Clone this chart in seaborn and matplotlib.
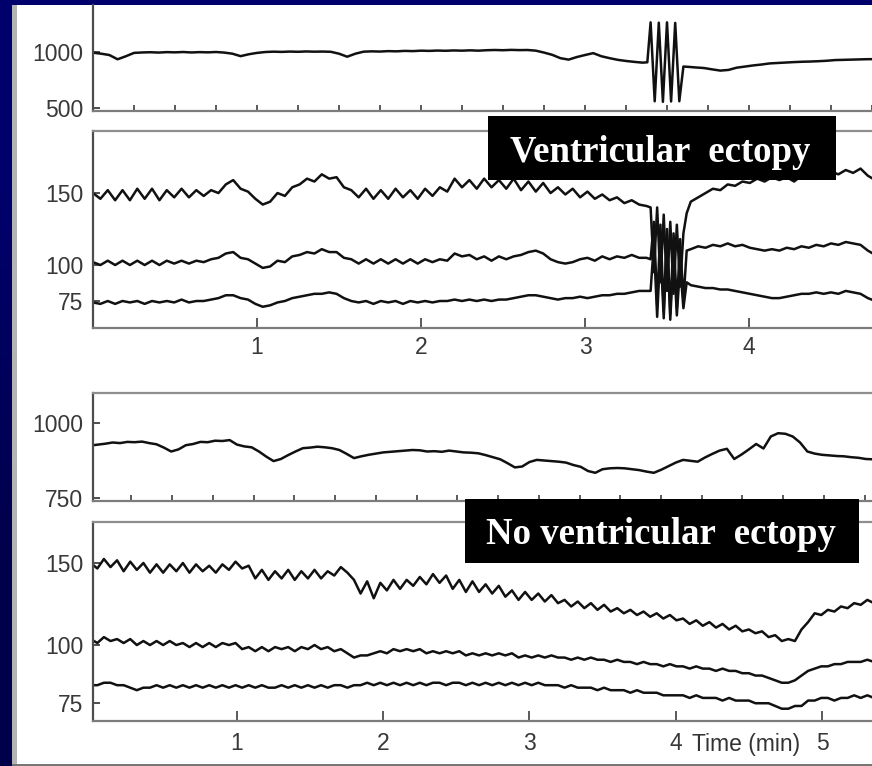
import numpy as np
import matplotlib
matplotlib.use("Agg")
import matplotlib.pyplot as plt
import seaborn as sns
from matplotlib.patches import Rectangle
from matplotlib.colors import LinearSegmentedColormap
from matplotlib.ticker import MultipleLocator, NullLocator

sns.set_theme(style="white")
plt.rcParams['font.family'] = ['Liberation Sans', 'DejaVu Sans']

# ---------------- DATA ----------------
# Panel 1: RR interval (ms), episode WITH ventricular ectopy; samples every 0.05 min
RR1_PRE = [994, 985, 973, 935, 962, 992, 996, 998, 995, 999,
           997, 1000, 996, 999, 997, 1000, 995, 985, 963, 980,
           992, 1000, 1003, 1001, 1004, 1002, 1005, 1003, 1004, 1002,
           985, 958, 985, 1003, 1006, 1004, 1008, 1006, 1010, 1008,
           1012, 1010, 1013, 1011, 1014, 1012, 1015, 1012, 1016, 1018,
           1016, 1019, 1017, 1018, 1012, 995, 975, 945, 932, 955,
           973, 990, 962, 945, 930, 920, 912, 905]
RR1_SPIKE_T = [3.38, 3.40, 3.425, 3.45, 3.475, 3.50, 3.525, 3.55, 3.575, 3.60]
RR1_SPIKE = [908, 1265, 560, 1262, 555, 1265, 558, 1260, 560, 870]
RR1_POST = [868, 862, 857, 845, 834, 840, 860, 870, 880, 888, 898, 902,
            906, 910, 913, 915, 918, 922, 928, 930, 932, 934, 936, 936]

# Panel 2: blood pressure (mmHg) systolic / mean / diastolic; samples every 0.045 min
S2_PRE = [150, 146, 152, 145, 152, 145, 153, 146, 153, 145,
          152, 147, 153, 147, 152, 148, 152, 150, 156, 159,
          153, 151, 146, 142, 144, 150, 148, 154, 156, 160,
          158, 163, 160, 161, 154, 152, 147, 153, 146, 152,
          146, 153, 147, 152, 146, 153, 148, 154, 151, 160,
          154, 159, 153, 160, 154, 159, 153, 160, 152, 158,
          151, 157, 150, 154, 149, 153, 147, 151, 146, 149,
          145, 147, 143, 145, 142, 141]
M2_PRE = [102, 100, 103, 100, 103, 100, 103, 100, 103, 100, 103, 101, 103, 101, 103, 102, 104, 105,
          108, 109, 105, 104, 101, 98, 99, 103, 102, 106, 107,
          109, 108, 111, 109, 109,
          105, 104, 101, 104, 101, 104, 101, 104, 101, 104, 101, 104, 102, 104, 103,
          108, 106, 107, 104, 106, 103, 106, 104, 106,
          107, 109, 110, 108, 104, 102, 101, 102,
          104, 105, 103, 106, 104, 106, 105, 107, 105, 105]
D2_PRE = [74, 73, 75, 73, 75, 74, 75, 73, 75, 74, 75, 74, 76, 74, 75, 75, 76, 77,
          79, 79, 77, 76, 73, 71, 72, 74,
          75, 77, 78, 79, 80, 80, 81, 80,
          77, 75, 74, 75, 73, 75, 74, 75, 73, 75, 74, 75, 74, 75,
          75, 76, 75, 76, 75, 76, 75, 76, 76,
          77, 78, 79, 79, 78, 77,
          76, 77, 77, 78, 77, 78, 79,
          79, 80, 80, 81, 82, 82]
BP2_SPIKE_T = [3.40, 3.42, 3.44, 3.46, 3.48, 3.50, 3.52, 3.54, 3.56, 3.58, 3.60, 3.62]
S2_SPIKE = [140, 95, 140, 88, 135, 82, 130, 80, 128, 85, 122, 136]
M2_SPIKE = [104, 130, 72, 128, 68, 125, 66, 122, 70, 118, 75, 110]
D2_SPIKE = [82, 115, 64, 112, 63, 118, 62, 110, 65, 100, 70, 88]
S2_POST = [144, 147, 150, 153, 152, 156, 155, 158, 157, 160, 158, 161, 159,
           161, 158, 162, 160, 163, 161, 165, 163, 166, 164, 167, 162, 159]
M2_POST = [111, 113, 112, 114, 113, 115, 113, 114, 112, 111, 110, 111, 110,
           112, 111, 113, 112, 114, 113, 115, 114, 116, 115, 114, 110, 107]
D2_POST = [86, 85, 84, 84, 83, 83, 82, 81, 80, 79, 78, 77, 77,
           78, 79, 80, 80, 81, 80, 81, 80, 82, 81, 80, 77, 75]

# Panel 3: RR interval (ms), episode WITHOUT ectopy; samples every 0.05 min
RR3 = [925, 928, 931, 935, 933, 937, 936, 938, 933, 929,
       918, 905, 912, 926, 930, 937, 936, 941, 940, 943,
       928, 922, 919, 905, 888, 873, 880, 893, 905, 916,
       918, 921, 919, 916, 910, 897, 883, 889, 894, 898,
       902, 904, 906, 908, 910, 909, 905, 906, 904, 908,
       905, 902, 901, 899, 893, 886, 879, 866, 852, 855,
       870, 877, 875, 873, 871, 868, 860, 854, 840, 834,
       846, 849, 850, 849, 846, 843, 838, 834, 844, 856,
       868, 877, 874, 871, 885, 897, 908, 914, 880, 895,
       912, 930, 915, 955, 966, 964, 955, 935, 905, 898,
       894, 892, 890, 889, 886, 884, 880, 879]

# Panel 4: blood pressure (mmHg) without ectopy; samples every 0.045 min
S4 = [150, 146, 153, 147, 152, 144, 151, 145, 150, 143,
      149, 143, 149, 144, 150, 143, 149, 144, 148, 143,
      149, 145, 151, 146, 148, 139, 145, 138, 144, 139,
      145, 138, 144, 139, 145, 139, 144, 141, 147, 143,
      138, 129, 137, 126, 136, 131, 138, 132, 138, 134,
      140, 135, 142, 136, 141, 132, 138, 130, 137, 130,
      135, 129, 134, 127, 131, 125, 130, 125, 129, 124,
      128, 123, 125, 121, 124, 120, 123, 119, 122, 118,
      120, 117, 119, 116, 118, 115, 117, 114, 116, 113,
      114, 111, 113, 110, 112, 109, 111, 108, 110, 107,
      108, 106, 107, 104, 105, 102, 103, 102, 108, 112,
      117, 116, 119, 118, 121, 120, 123, 122, 125, 123]
M4 = [103, 101, 104, 102, 103, 101, 103, 100, 102, 100, 102,
      100, 102, 100, 101, 99, 101, 99, 101, 99, 101, 100, 101,
      98, 99, 97, 99, 97, 99, 98, 99, 97, 99, 98, 100, 98,
      99, 97, 98, 96, 94, 95, 95, 96, 97, 96, 98, 97,
      98, 97, 98, 96, 97, 96, 97, 96, 97, 95, 96, 95, 96, 95, 96,
      95, 96, 94, 95, 94, 95, 94, 95, 94, 94, 93, 94, 93, 94, 93, 93,
      92, 93, 92, 92, 91, 92, 91, 91, 90, 91, 90, 90,
      89, 90, 89, 89, 88, 89, 88, 88, 87, 87, 86, 86,
      85, 84, 83, 83, 84,
      86, 88, 89, 90, 90, 91, 91, 92, 92, 92, 93, 92]
D4 = [82, 82, 83, 83, 82, 82, 81, 80, 81, 81, 82,
      81, 82, 81, 82, 81, 82, 81, 82, 81, 82, 81, 82,
      81, 82, 81, 82, 81, 81, 82, 81, 82, 81, 82, 81, 82,
      81, 82, 82, 81, 82, 82, 83, 82, 83, 82, 83, 82,
      83, 82, 83, 82, 83, 83, 82, 83, 83, 82, 83, 82, 83, 82, 83,
      82, 83, 82, 83, 82, 83, 82, 82, 82, 81, 82, 81, 81, 81, 80, 81,
      80, 80, 80, 79, 80, 79, 79, 79, 78, 78, 78, 78,
      77, 78, 77, 77, 77, 76, 77, 76, 76, 76, 75, 75,
      75, 74, 73, 73, 74,
      74, 76, 76, 77, 77, 76, 77, 77, 78, 77, 78, 77]

TOP_TICKS_RR1 = [500, 1000]
TOP_TICKS_RR3 = [750, 1000]
BP_TICKS = [75, 100, 150]
TIME_TICKS_A = [1, 2, 3, 4]
TIME_TICKS_B = [1, 2, 3, 4, 5]
LABEL_A = "Ventricular  ectopy"
LABEL_B = "No ventricular  ectopy"
TIME_LABEL = "Time (min)"

# sampling instants (minutes)
t1_pre = np.arange(len(RR1_PRE)) * 0.05
t1_post = 3.625 + np.arange(len(RR1_POST)) * 0.05
t2_pre = np.arange(len(S2_PRE)) * 0.045
t2_post = 3.645 + np.arange(len(S2_POST)) * 0.045
t3 = np.arange(len(RR3)) * 0.05
t4 = np.arange(len(S4)) * 0.045

# ---------------- FIGURE ----------------
W, H = 872, 766
fig = plt.figure(figsize=(W / 100, H / 100), dpi=100)
fig.patch.set_facecolor('#00005c')


def rect(l, t, r, b):
    return [l / W, 1 - b / H, (r - l) / W, (b - t) / H]


bg = fig.add_axes([0, 0, 1, 1], zorder=-10)
bg.imshow([[0.0], [1.0]], aspect='auto', extent=[0, 1, 0, 1], interpolation='bilinear',
          cmap=LinearSegmentedColormap.from_list('navy', ['#00006c', '#00004a']))
bg.set_axis_off()

fig.add_artist(Rectangle((12 / W, 1 - 764 / H), (W - 12) / W, 759 / H, transform=fig.transFigure,
                         facecolor='white', edgecolor='none', zorder=-5))
fig.add_artist(Rectangle((12 / W, 1 - 764 / H), 5 / W, 759 / H, transform=fig.transFigure,
                         facecolor='#b4b4b4', edgecolor='none', zorder=-4))
fig.add_artist(Rectangle((12 / W, 0), (W - 12) / W, 2.5 / H, transform=fig.transFigure,
                         facecolor='#767676', edgecolor='none', zorder=-4))

ax1 = fig.add_axes(rect(93, 5, 872, 111))
ax2 = fig.add_axes(rect(93, 131, 872, 328))
ax3 = fig.add_axes(rect(93, 393, 872, 501))
ax4 = fig.add_axes(rect(93, 522, 872, 721))

LABEL_COLOR = '#383838'
TRACE = '#111111'
LW = 1.8
FS = 16.5


def style(ax, top=True):
    ax.set_facecolor('white')
    ax.grid(False)
    ax.spines['right'].set_visible(False)
    ax.spines['top'].set_visible(top)
    ax.spines['left'].set_color('#4d4d4d')
    ax.spines['bottom'].set_color('#7c7c7c')
    ax.spines['top'].set_color('#8e8e8e')
    for s in ax.spines.values():
        s.set_linewidth(1.6)
    ax.tick_params(axis='y', direction='in', length=5, width=1.4, color='#4d4d4d',
                   labelcolor=LABEL_COLOR, labelsize=FS, pad=7, left=True)
    ax.tick_params(axis='x', direction='in', width=1.4, color='#5a5a5a',
                   labelcolor=LABEL_COLOR, labelsize=FS, bottom=True)
    ax.set_xlabel('')
    ax.set_ylabel('')


# Panel 1
sns.lineplot(x=np.concatenate([t1_pre, RR1_SPIKE_T, t1_post]),
             y=np.concatenate([RR1_PRE, RR1_SPIKE, RR1_POST]),
             ax=ax1, color=TRACE, linewidth=LW, estimator=None, sort=False)
style(ax1, top=False)
ax1.set_xlim(0, 4.75)
ax1.set_ylim(473, 1420)
ax1.set_yticks(TOP_TICKS_RR1)
ax1.xaxis.set_major_locator(MultipleLocator(0.25))
ax1.tick_params(axis='x', length=4, labelbottom=False)

# Panel 2
for pre, spk, post in [(S2_PRE, S2_SPIKE, S2_POST), (M2_PRE, M2_SPIKE, M2_POST), (D2_PRE, D2_SPIKE, D2_POST)]:
    sns.lineplot(x=np.concatenate([t2_pre, BP2_SPIKE_T, t2_post]),
                 y=np.concatenate([pre, spk, post]),
                 ax=ax2, color=TRACE, linewidth=LW, estimator=None, sort=False)
style(ax2)
ax2.set_xlim(0, 4.75)
ax2.set_ylim(56.25, 193.1)
ax2.set_yticks(BP_TICKS)
ax2.set_xticks(TIME_TICKS_A)
ax2.tick_params(axis='x', length=7, pad=6)

# Panel 3
sns.lineplot(x=t3, y=RR3, ax=ax3, color=TRACE, linewidth=LW, estimator=None, sort=False)
style(ax3)
ax3.set_xlim(0.0154, 5.342)
ax3.set_ylim(740, 1100)
ax3.set_yticks(TOP_TICKS_RR3)
ax3.xaxis.set_major_locator(MultipleLocator(0.2785))
ax3.tick_params(axis='x', length=4, labelbottom=False)

# Panel 4
ax4.set_yscale('log')
for series in (S4, M4, D4):
    sns.lineplot(x=t4, y=series, ax=ax4, color=TRACE, linewidth=LW, estimator=None, sort=False)
style(ax4)
ax4.set_xlim(0.0154, 5.342)
ax4.set_ylim(68.7, 183.7)
ax4.set_yticks(BP_TICKS, labels=[str(v) for v in BP_TICKS])
ax4.yaxis.set_minor_locator(NullLocator())
ax4.set_xticks(TIME_TICKS_B)
ax4.tick_params(axis='x', length=7, pad=8)

# Labels in black boxes
fig.add_artist(Rectangle((488 / W, 1 - 180 / H), 348 / W, 64 / H, transform=fig.transFigure,
                         facecolor='black', edgecolor='none', zorder=5))
fig.text(660 / W, 1 - 162 / H, LABEL_A, ha='center', va='baseline', color='white',
         fontsize=26.5, fontweight='bold', family=['Liberation Serif', 'DejaVu Serif'], zorder=6)
fig.add_artist(Rectangle((465 / W, 1 - 563 / H), 394 / W, 64 / H, transform=fig.transFigure,
                         facecolor='black', edgecolor='none', zorder=5))
fig.text(660.5 / W, 1 - 544 / H, LABEL_B, ha='center', va='baseline', color='white',
         fontsize=26.5, fontweight='bold', family=['Liberation Serif', 'DejaVu Serif'], zorder=6)

fig.text(746 / W, 1 - 745 / H, TIME_LABEL, ha='center', va='center', color='#333333',
         fontsize=FS, zorder=6)

fig.savefig('out.png', dpi=100, facecolor=fig.get_facecolor())
